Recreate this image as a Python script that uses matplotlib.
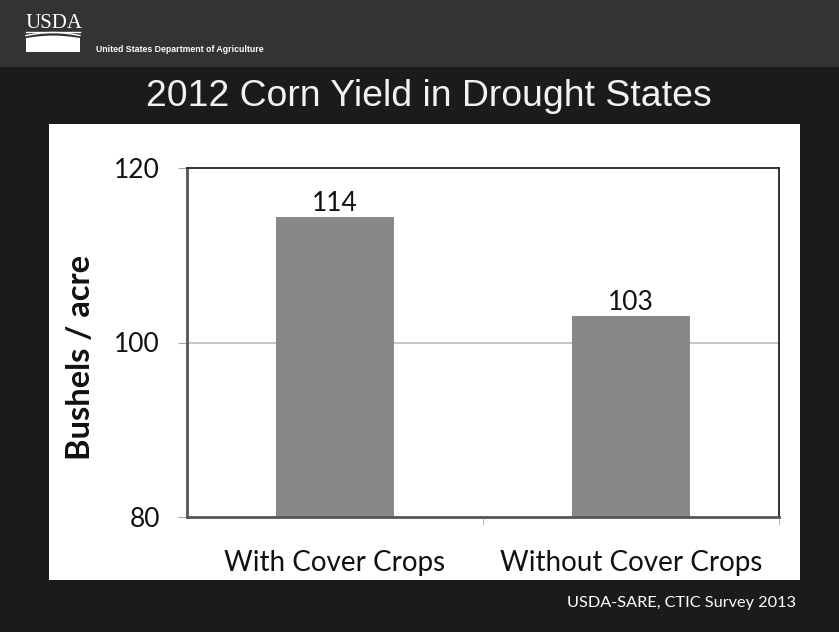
import numpy as np
import matplotlib.pyplot as plt
from matplotlib.patches import Rectangle, Polygon

# data
categories = ["With Cover Crops", "Without Cover Crops"]
yields = [114.4, 103.0]
value_labels = ["114", "103"]
y_ticks = [80, 100, 120]

W, H = 839, 632
fig = plt.figure(figsize=(W / 100, H / 100), dpi=100)
fig.patch.set_facecolor("#1b1b1b")


def fx(px):
    return px / W


def fy(py):
    return 1 - py / H


# header band
fig.patches.append(Rectangle((0, fy(67)), 1, 67 / H, transform=fig.transFigure,
                             facecolor="#333333", edgecolor="none", zorder=-2))
# USDA logo
fig.text(fx(25), fy(23), "USDA", color="white", fontsize=15, family="Liberation Serif",
         ha="left", va="center")
fig.lines.append(plt.Line2D([fx(26), fx(80)], [fy(32), fy(32)], transform=fig.transFigure,
                            color="white", lw=1))
xs = np.linspace(26, 80, 30)
top = 38 - 2.4 * np.sin((xs - 26) / 54 * np.pi)
fig.patches.append(Polygon(np.column_stack([fx(xs), fy(top)]).tolist()
                           + [[fx(80), fy(52)], [fx(26), fy(52)]],
                           closed=True, transform=fig.transFigure,
                           facecolor="white", edgecolor="none"))
fig.lines.append(plt.Line2D(fx(xs), fy(35.5 - 3 * np.sin((xs - 26) / 54 * np.pi)),
                            transform=fig.transFigure, color="white", lw=1))
fig.text(fx(96), fy(50), "United States Department of Agriculture", color="white",
         fontsize=6.3, fontweight="bold", family="Liberation Sans", ha="left", va="center")

# title
fig.text(fx(429), fy(97), "2012 Corn Yield in Drought States", color="#f2f2f2",
         fontsize=26.9, family="Liberation Sans", ha="center", va="center")

# white panel
fig.patches.append(Rectangle((fx(49), fy(580)), 751 / W, 456 / H, transform=fig.transFigure,
                             facecolor="white", edgecolor="none", zorder=-1))

ax = fig.add_axes([fx(187), fy(517), 592 / W, 349 / H])
ax.set_zorder(5)
ax.set_facecolor("white")
x = np.arange(len(categories))
ax.bar(x, yields, width=0.4, color="#888888", zorder=2)
for xi, v, lab in zip(x, yields, value_labels):
    ax.text(xi, v + 0.1, lab, ha="center", va="bottom", fontsize=19, family="Lato",
            color="#111111")

ax.set_xlim(-0.5, 1.5)
ax.set_ylim(80, 120)
ax.set_yticks(y_ticks)
ax.set_yticklabels([str(t) for t in y_ticks], fontsize=19, family="Lato", color="#111111")
ax.set_xticks(x)
ax.set_xticklabels(categories, fontsize=20, family="Lato", color="#111111")
ax.tick_params(axis="x", length=0, pad=24)
ax.tick_params(axis="y", length=6.5, color="#aaaaaa", pad=13)
# category boundary ticks
ax.set_xticks([0.5, 1.5], minor=True)
ax.tick_params(axis="x", which="minor", length=6, color="#aaaaaa", direction="out")
ax.axhline(100, color="#bbbbbb", lw=1.2, zorder=1)

for s in ["top", "right"]:
    ax.spines[s].set_color("#222222")
    ax.spines[s].set_linewidth(1.3)
for s in ["left", "bottom"]:
    ax.spines[s].set_color("#555555")
    ax.spines[s].set_linewidth(2)

fig.text(fx(81), fy(357), "Bushels / acre", rotation=90, fontsize=23.5, fontweight="bold",
         family="Lato", color="#111111", ha="center", va="center")

fig.text(fx(796), fy(603), "USDA-SARE, CTIC Survey 2013", color="white", fontsize=11.7,
         family="Lato", ha="right", va="center")

fig.savefig("out.png", dpi=100, facecolor=fig.get_facecolor())
